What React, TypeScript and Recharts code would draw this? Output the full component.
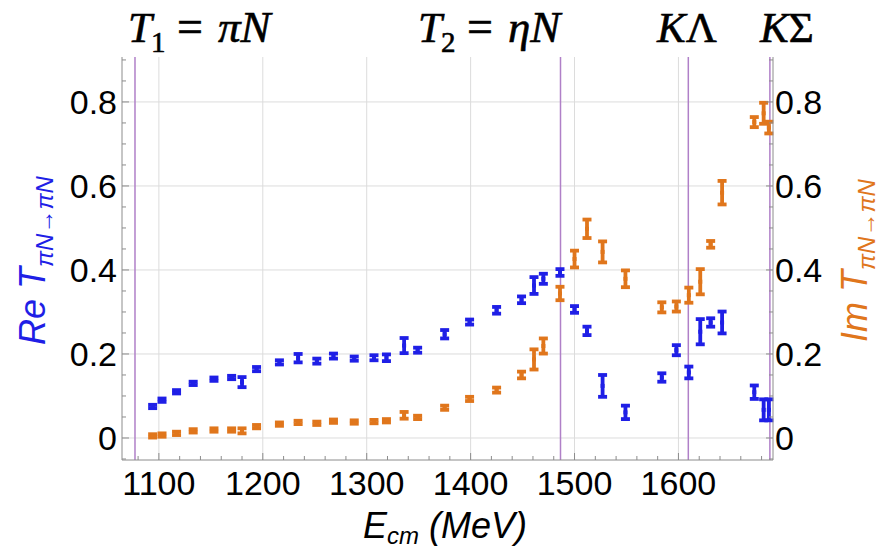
import React from "react";
import { ComposedChart, Scatter, ErrorBar, XAxis, YAxis, ReferenceLine } from "recharts";

// centre-of-mass energies (MeV) shared by both series
const energies = [
  1094, 1103, 1117, 1133, 1153, 1170, 1180, 1194, 1216, 1234, 1252, 1268, 1288, 1307, 1319,
  1336, 1349, 1375, 1399, 1425, 1449, 1461, 1470, 1486, 1500, 1512, 1527, 1549, 1584, 1598,
  1610, 1621, 1631, 1642, 1673, 1682, 1687,
];
const reValues = [
  0.075, 0.09, 0.11, 0.13, 0.14, 0.144, 0.133, 0.164, 0.18, 0.19, 0.183, 0.195, 0.189, 0.191, 0.191,
  0.22, 0.209, 0.247, 0.276, 0.304, 0.329, 0.363, 0.379, 0.394, 0.306, 0.255, 0.124, 0.061, 0.144, 0.209,
  0.156, 0.253, 0.275, 0.275, 0.109, 0.067, 0.067,
];
const reErrors = [
  0.004, 0.004, 0.004, 0.004, 0.004, 0.004, 0.012, 0.005, 0.005, 0.01, 0.006, 0.006, 0.005, 0.006, 0.008,
  0.018, 0.006, 0.01, 0.006, 0.008, 0.008, 0.02, 0.012, 0.008, 0.008, 0.01, 0.026, 0.016, 0.01, 0.012,
  0.014, 0.03, 0.01, 0.026, 0.016, 0.025, 0.025,
];
const imValues = [
  0.005, 0.007, 0.011, 0.017, 0.019, 0.019, 0.017, 0.027, 0.033, 0.037, 0.035, 0.04, 0.038, 0.039, 0.041,
  0.054, 0.049, 0.072, 0.093, 0.114, 0.15, 0.187, 0.219, 0.344, 0.426, 0.498, 0.443, 0.379, 0.311, 0.313,
  0.34, 0.372, 0.461, 0.584, 0.752, 0.773, 0.739,
];
const imErrors = [
  0.004, 0.004, 0.004, 0.004, 0.004, 0.004, 0.006, 0.004, 0.004, 0.004, 0.004, 0.004, 0.004, 0.004, 0.004,
  0.008, 0.004, 0.005, 0.005, 0.006, 0.008, 0.024, 0.018, 0.016, 0.02, 0.022, 0.025, 0.02, 0.012, 0.012,
  0.018, 0.03, 0.008, 0.028, 0.012, 0.025, 0.014,
];

// channel thresholds (MeV): piN, etaN, K Lambda, K Sigma
const thresholds = [1077, 1486.5, 1609.5, 1688];

const xMajorTicks = [1100, 1200, 1300, 1400, 1500, 1600];
const xTickLabels = ["1100", "1200", "1300", "1400", "1500", "1600"];
const xTicks = [
  1080, 1100, 1120, 1140, 1160, 1180, 1200, 1220, 1240, 1260, 1280, 1300, 1320, 1340, 1360, 1380,
  1400, 1420, 1440, 1460, 1480, 1500, 1520, 1540, 1560, 1580, 1600, 1620, 1640, 1660, 1680,
];
const yMajorTicks = [0, 0.2, 0.4, 0.6, 0.8];
const yTickLabels = ["0", "0.2", "0.4", "0.6", "0.8"];
const yTicks = [
  -0.05, 0, 0.05, 0.1, 0.15, 0.2, 0.25, 0.3, 0.35, 0.4, 0.45, 0.5, 0.55, 0.6, 0.65, 0.7, 0.75, 0.8,
  0.85, 0.9,
];

const data = energies.map((e, i) => ({
  e,
  re: reValues[i],
  reErr: reErrors[i],
  im: imValues[i],
  imErr: imErrors[i],
}));

const BLUE = "#1f1fe6";
const ORANGE = "#e0761c";
const FRAME = "#8c8c8c";
const GRID = "#dcdcdc";
const PURPLE = "#b080c8";
const SANS = "'Liberation Sans', Arial, sans-serif";
const SERIF = "'Liberation Serif', 'Times New Roman', serif";

const majorIndex = (list: number[], v: number) => list.findIndex((m) => Math.abs(m - v) < 1e-6);

function LeftTick(props: any) {
  const { x, y, payload } = props;
  const i = majorIndex(yMajorTicks, payload.value);
  return (
    <g>
      <line x1={x} x2={x + (i >= 0 ? 7 : 4)} y1={y} y2={y} stroke={FRAME} />
      {i >= 0 && (
        <text x={x - 5} y={y} dy={12} textAnchor="end" fontFamily={SANS} fontSize={34} fill="#000">
          {yTickLabels[i]}
        </text>
      )}
    </g>
  );
}

function RightTick(props: any) {
  const { x, y, payload } = props;
  const i = majorIndex(yMajorTicks, payload.value);
  return (
    <g>
      <line x1={x} x2={x - (i >= 0 ? 7 : 4)} y1={y} y2={y} stroke={FRAME} />
      {i >= 0 && (
        <text x={x + 2} y={y} dy={12} textAnchor="start" fontFamily={SANS} fontSize={34} fill="#000">
          {yTickLabels[i]}
        </text>
      )}
    </g>
  );
}

function BottomTick(props: any) {
  const { x, y, payload } = props;
  const i = majorIndex(xMajorTicks, payload.value);
  return (
    <g>
      <line x1={x} x2={x} y1={y} y2={y - (i >= 0 ? 7 : 4)} stroke={FRAME} />
      {i >= 0 && (
        <text x={x} y={y + 35} textAnchor="middle" fontFamily={SANS} fontSize={34} fill="#000">
          {xTickLabels[i]}
        </text>
      )}
    </g>
  );
}

const dot = (color: string) => (p: any) =>
  <rect x={p.cx - 2} y={p.cy - 2} width={4} height={4} fill={color} />;

const math = { fontFamily: SERIF, stroke: "#000", strokeWidth: 0.6 };

// "T_n = xN" threshold label, built from separate pieces
function ChannelLabel({ x, sub, rest }: { x: number; sub: string; rest: string }) {
  return (
    <g>
      <text x={x} y={42} fontSize={43} fontStyle="italic" {...math}>T</text>
      <text x={x + 23} y={52} fontSize={29} {...math}>{sub}</text>
      <text x={x + 49} y={42} fontSize={46} {...math}>=</text>
      <text x={x + 90} y={42} fontSize={45} fontStyle="italic" {...math}>{rest}</text>
    </g>
  );
}

export default function App() {
  const xDomain = [1064.5, 1691];
  const yDomain = [-0.0524, 0.907];
  return (
    <div style={{ position: "absolute", left: 0, top: 0, width: 887, height: 550, background: "#fff" }}>
      <ComposedChart width={887} height={550} data={data} margin={{ top: 57, right: 0, bottom: 0, left: 0 }}>
        <XAxis
          xAxisId="b"
          dataKey="e"
          type="number"
          domain={xDomain}
          allowDataOverflow
          ticks={xTicks}
          interval={0}
          tick={<BottomTick />}
          tickLine={false}
          tickSize={0}
          tickMargin={0}
          height={90}
          axisLine={{ stroke: FRAME }}
        />
        <XAxis
          xAxisId="t"
          orientation="top"
          type="number"
          domain={xDomain}
          allowDataOverflow
          height={0}
          tick={false}
          tickLine={false}
          axisLine={{ stroke: FRAME }}
        />
        <YAxis
          yAxisId="l"
          dataKey="re"
          type="number"
          domain={yDomain}
          allowDataOverflow
          ticks={yTicks}
          interval={0}
          tick={<LeftTick />}
          tickLine={false}
          tickSize={0}
          tickMargin={0}
          width={122}
          axisLine={{ stroke: FRAME }}
        />
        <YAxis
          yAxisId="r"
          orientation="right"
          dataKey="im"
          type="number"
          domain={yDomain}
          allowDataOverflow
          ticks={yTicks}
          interval={0}
          tick={<RightTick />}
          tickLine={false}
          tickSize={0}
          tickMargin={0}
          width={114}
          axisLine={{ stroke: FRAME }}
        />
        {yMajorTicks.map((v) => (
          <ReferenceLine key={"gy" + v} xAxisId="b" yAxisId="l" y={v} stroke={GRID} strokeWidth={1} />
        ))}
        {xMajorTicks.map((v) => (
          <ReferenceLine key={"gx" + v} xAxisId="b" yAxisId="l" x={v} stroke={GRID} strokeWidth={1} />
        ))}
        {thresholds.map((v) => (
          <ReferenceLine key={"th" + v} xAxisId="b" yAxisId="l" x={v} stroke={PURPLE} strokeWidth={1.5} />
        ))}
        <Scatter
          xAxisId="b"
          yAxisId="l"
          dataKey="re"
          fill={BLUE}
          shape={dot(BLUE)}
          isAnimationActive={false}
        >
          <ErrorBar dataKey="reErr" direction="y" width={4.5} strokeWidth={3.8} stroke={BLUE} isAnimationActive={false} />
        </Scatter>
        <Scatter
          xAxisId="b"
          yAxisId="r"
          dataKey="im"
          fill={ORANGE}
          shape={dot(ORANGE)}
          isAnimationActive={false}
        >
          <ErrorBar dataKey="imErr" direction="y" width={4.5} strokeWidth={3.8} stroke={ORANGE} isAnimationActive={false} />
        </Scatter>
      </ComposedChart>
      <svg width={887} height={550} style={{ position: "absolute", left: 0, top: 0, pointerEvents: "none" }}>
        <ChannelLabel x={128} sub="1" rest="πN" />
        <ChannelLabel x={418} sub="2" rest="ηN" />
        <text x={657} y={42} fontSize={43} {...math}>
          <tspan fontStyle="italic">K</tspan>Λ
        </text>
        <text x={760} y={42} fontSize={43} {...math}>
          <tspan fontStyle="italic">K</tspan>Σ
        </text>
        <text x={363} y={538} fontFamily={SANS} fontSize={36} fontStyle="italic">
          E<tspan fontSize={24} dy={6}>cm</tspan>
          <tspan dy={-6}>{" (MeV)"}</tspan>
        </text>
        <text x={45} y={345} transform="rotate(-90 45 345)" fontFamily={SANS} fontSize={36} fontStyle="italic" fill={BLUE}>
          Re T<tspan fontSize={24} dy={8}>πN→πN</tspan>
        </text>
        <text x={867} y={342} transform="rotate(-90 867 342)" fontFamily={SANS} fontSize={36} fontStyle="italic" fill={ORANGE}>
          Im T<tspan fontSize={24} dy={8}>πN→πN</tspan>
        </text>
      </svg>
    </div>
  );
}
